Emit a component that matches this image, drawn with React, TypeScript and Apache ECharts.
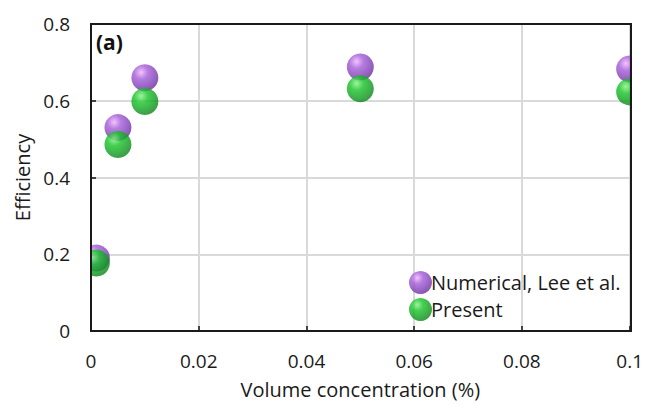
import React, { useEffect, useRef } from "react";
import * as echarts from "echarts";

// Volume concentration (%) for each measured case
const concentrations = [0.001, 0.005, 0.01, 0.05, 0.1];
// Efficiency, numerical results of Lee et al.
const leeEfficiency = [0.19, 0.53, 0.66, 0.688, 0.683];
// Efficiency, present work
const presentEfficiency = [0.177, 0.486, 0.598, 0.631, 0.623];

const xTicks = [0, 0.02, 0.04, 0.06, 0.08, 0.1];
const yTicks = [0, 0.2, 0.4, 0.6, 0.8];

const FONT = "'Open Sans', sans-serif";
const W = 646;
const H = 405;
const GRID = { left: 91, top: 24, right: 15, bottom: 74 };

const sphere = (hi: string, mid: string, lo: string) =>
  new echarts.graphic.RadialGradient(0.36, 0.3, 0.72, [
    { offset: 0, color: hi },
    { offset: 0.35, color: mid },
    { offset: 1, color: lo },
  ]);

const pairs = (ys: number[]) => concentrations.map((x, i) => [x, ys[i]]);

export default function App() {
  const ref = useRef<HTMLDivElement>(null);

  useEffect(() => {
    if (!ref.current) return;
    const chart = echarts.init(ref.current, null, { renderer: "svg" });

    const plotRight = W - GRID.right;
    const plotBottom = H - GRID.bottom;

    chart.setOption({
      animation: false,
      backgroundColor: "#ffffff",
      grid: { ...GRID, containLabel: false },
      xAxis: {
        type: "value",
        min: xTicks[0],
        max: xTicks[xTicks.length - 1],
        interval: 0.02,
        name: "Volume concentration (%)",
        nameLocation: "middle",
        nameGap: 48,
        nameTextStyle: { fontFamily: FONT, fontSize: 20, color: "#1a1a1a" },
        axisLine: { show: false },
        axisTick: { show: true, inside: true, length: 5, lineStyle: { color: "#111", width: 1.5 } },
        axisLabel: {
          fontFamily: FONT,
          fontSize: 19,
          color: "#1a1a1a",
          margin: 20,
          formatter: (v: number) => String(Number(v.toFixed(2))),
        },
        splitLine: { show: true, lineStyle: { color: "#d9d9d9", width: 2 } },
      },
      yAxis: {
        type: "value",
        min: yTicks[0],
        max: yTicks[yTicks.length - 1],
        interval: 0.2,
        name: "Efficiency",
        nameLocation: "middle",
        nameGap: 58,
        nameTextStyle: { fontFamily: FONT, fontSize: 20, color: "#1a1a1a" },
        axisLine: { show: false },
        axisTick: { show: true, inside: true, length: 5, lineStyle: { color: "#111", width: 1.5 } },
        axisLabel: {
          fontFamily: FONT,
          fontSize: 19,
          color: "#1a1a1a",
          margin: 21,
          formatter: (v: number) => String(Number(v.toFixed(1))),
        },
        splitLine: { show: true, lineStyle: { color: "#d9d9d9", width: 2 } },
      },
      legend: {
        orient: "vertical",
        left: 404,
        top: 266,
        itemWidth: 23,
        itemHeight: 23,
        itemGap: 4,
        icon: "circle",
        textStyle: { fontFamily: FONT, fontSize: 20, color: "#1a1a1a", padding: [0, 0, 0, -6] },
        data: ["Numerical, Lee et al.", "Present"],
      },
      series: [
        {
          name: "Numerical, Lee et al.",
          type: "scatter",
          symbol: "circle",
          symbolSize: 27,
          z: 3,
          itemStyle: { color: sphere("#f0b4fa", "#a45cda", "#6a2d9e") },
          data: pairs(leeEfficiency),
        },
        {
          name: "Present",
          type: "scatter",
          symbol: "circle",
          symbolSize: 27,
          z: 4,
          itemStyle: { color: sphere("#86f086", "#16c426", "#0a8418") },
          data: pairs(presentEfficiency),
        },
      ],
      graphic: [
        // keep markers inside the plot frame
        {
          type: "rect",
          z: 50,
          silent: true,
          shape: { x: GRID.left - 16, y: 230, width: 15, height: 60 },
          style: { fill: "#ffffff" },
        },
        {
          type: "rect",
          z: 50,
          silent: true,
          shape: { x: plotRight + 1, y: 40, width: 20, height: 80 },
          style: { fill: "#ffffff" },
        },
        // plot frame
        {
          type: "rect",
          z: 60,
          silent: true,
          shape: {
            x: GRID.left,
            y: GRID.top,
            width: plotRight - GRID.left,
            height: plotBottom - GRID.top,
          },
          style: { fill: "none", stroke: "#1a1a1a", lineWidth: 2 },
        },
        {
          type: "text",
          z: 60,
          left: 96,
          top: 31,
          style: {
            text: "(a)",
            fontFamily: FONT,
            fontWeight: "bold",
            fontSize: 21,
            fill: "#111",
          },
        },
      ],
    });

    return () => chart.dispose();
  }, []);

  return (
    <div
      ref={ref}
      style={{ position: "fixed", left: 0, top: 0, width: W, height: H }}
    />
  );
}
